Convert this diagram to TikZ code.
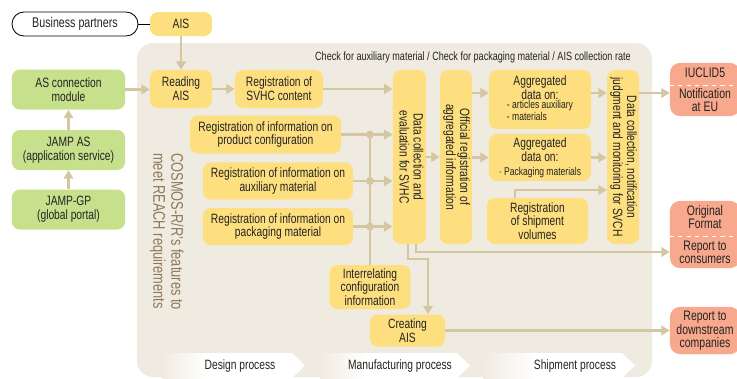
\documentclass[tikz,border=0pt]{standalone}
\usepackage{fontspec}
\setmainfont{Liberation Sans}[FakeStretch=0.76]
\usetikzlibrary{arrows.meta}

\definecolor{panelbg}{RGB}{240,235,225}
\definecolor{boxyellow}{RGB}{254,223,127}
\definecolor{boxgreen}{RGB}{198,224,140}
\definecolor{boxsalmon}{RGB}{248,168,140}
\definecolor{flowtan}{RGB}{212,198,160}
\definecolor{textdark}{RGB}{35,35,35}
\definecolor{cosmosbrown}{RGB}{140,122,92}

\newcommand{\smalltext}{\fontsize{8}{7.8}\selectfont}

\tikzset{
  boxfont/.style={font=\fontsize{9.6}{9.8}\selectfont},
  ybox/.style={fill=boxyellow, rounded corners=0.2cm, align=center, text=textdark, boxfont, inner sep=1pt},
  gbox/.style={fill=boxgreen, rounded corners=0.2cm, align=center, text=textdark, boxfont, inner sep=1pt},
  rbox/.style={fill=boxsalmon, rounded corners=0.25cm, align=center, text=textdark, font=\fontsize{9.8}{9}\selectfont, inner sep=1pt},
  flow/.style={draw=flowtan, line width=2.1pt, -{Triangle[length=0.21cm,width=0.24cm]}},
  plainflow/.style={draw=flowtan, line width=2.1pt},
  joint/.style={circle, fill=flowtan, inner sep=0pt, minimum size=0.2cm},
  divider/.style={draw=white, dashed, line width=0.8pt},
  proclabel/.style={text=textdark, font=\fontsize{9.6}{10}\selectfont},
}

\begin{document}
\begin{tikzpicture}[x=0.025cm, y=-0.025cm]
\useasboundingbox (0,0) rectangle (737,378);

% panel
\fill[panelbg, rounded corners=0.4cm] (137,43) rectangle (652,377);

% process arrows along the bottom
\fill[white] (162,353) -- (292,353) -- (305,365.5) -- (292,378) -- (162,378) -- cycle;
\shade[left color=panelbg, right color=white] (162,353) rectangle (205,378);
\fill[white] (320,353) -- (457,353) -- (470,365.5) -- (457,378) -- (320,378) -- cycle;
\shade[left color=panelbg, right color=white] (320,353) rectangle (365,378);
\fill[white] (483,353) -- (622,353) -- (635,365.5) -- (622,378) -- (483,378) -- cycle;
\shade[left color=panelbg, right color=white] (483,353) rectangle (535,378);
\node[proclabel] (design) at (240,366) {Design process};
\node[proclabel] (manuf) at (400,366) {Manufacturing process};
\node[proclabel] (shipment) at (575,366) {Shipment process};

\node[text=textdark, font=\fontsize{8.5}{9}\selectfont, anchor=east, inner sep=0pt] (checknote) at (631,57)
  {Check for auxiliary material / Check for packaging material / AIS collection rate};
\node[rotate=-90, anchor=north west, align=left, inner sep=0pt, text=cosmosbrown, font=\fontsize{12}{12.8}\selectfont] (cosmos) at (184,153)
  {COSMOS-R/R's features to\\meet REACH requirements};

% left column
\node[draw=black, line width=0.6pt, fill=white, rounded corners=0.3cm, minimum width=3.15cm, minimum height=0.6cm,
  text=textdark, font=\fontsize{10}{11}\selectfont] (partners) at (75,24) {Business partners};
\node[ybox, minimum width=1.55cm, minimum height=0.6cm] (aistop) at (181,24) {AIS};
\node[gbox, minimum width=2.83cm, minimum height=1cm] (ascon) at (68.5,89.5) {AS connection\\module};
\node[gbox, minimum width=2.83cm, minimum height=1cm] (jampas) at (68.5,150) {JAMP AS\\(application service)};
\node[gbox, minimum width=2.83cm, minimum height=1cm] (jampgp) at (68.5,209.5) {JAMP-GP\\(global portal)};

% design
\node[ybox, minimum width=1.55cm, minimum height=0.95cm] (reading) at (181,89) {Reading\\AIS};
\node[ybox, minimum width=2.2cm, minimum height=0.95cm] (svhc) at (279,89) {Registration of\\SVHC content};
\node[ybox, minimum width=3.78cm, minimum height=0.95cm] (regprod) at (265.5,134.5) {Registration of information on\\product configuration};
\node[ybox, minimum width=3.75cm, minimum height=0.93cm] (regaux) at (278,181) {Registration of information on\\auxiliary material};
\node[ybox, minimum width=3.75cm, minimum height=0.93cm] (regpack) at (278,226.5) {Registration of information on\\packaging material};

% manufacturing
\node[ybox, minimum width=0.83cm, minimum height=4.35cm] (dc1) at (409.5,157)
  {\rotatebox{-90}{\begin{tabular}{@{}c@{}}Data collection and\\evaluation for SVHC\end{tabular}}};
\node[ybox, minimum width=0.8cm, minimum height=4.35cm] (off) at (456,157)
  {\rotatebox{-90}{\begin{tabular}{@{}c@{}}Official registration of\\aggregated information\end{tabular}}};
\node[ybox, minimum width=2.03cm, minimum height=1.1cm] (inter) at (370,287) {Interrelating\\configuration\\information};
\node[ybox, minimum width=1.88cm, minimum height=0.8cm] (creating) at (407.5,330.5) {Creating\\AIS};

% shipment
\node[ybox, minimum width=2.55cm, minimum height=1.48cm] (agg1) at (540,99.5)
  {Aggregated\\data on:\\{\smalltext\begin{tabular}{@{}l@{}}- articles auxiliary\\- materials\end{tabular}}};
\node[ybox, minimum width=2.55cm, minimum height=1.18cm] (agg2) at (540,157.5)
  {Aggregated\\data on:\\{\smalltext · Packaging materials}};
\node[ybox, minimum width=2.53cm, minimum height=1.15cm] (ship) at (537.5,221) {Registration\\of shipment\\volumes};
\node[ybox, minimum width=0.8cm, minimum height=4.35cm] (dc2) at (623,157)
  {\rotatebox{-90}{\begin{tabular}{@{}c@{}}Data collection, notification\\judgment and monitoring for SVCH\end{tabular}}};

% outputs
\node[rbox, minimum width=1.75cm, minimum height=1.33cm] (iuclid) at (705,89.5) {IUCLID5\\[6pt]Notification\\at EU};
\node[rbox, minimum width=1.75cm, minimum height=1.68cm] (orig) at (705,234.5) {Original\\Format\\[7pt]Report to\\consumers};
\node[rbox, minimum width=1.75cm, minimum height=1.18cm] (down) at (705,330.5) {Report to\\downstream\\companies};
\draw[divider] ([yshift=0.11cm]iuclid.west) -- ([yshift=0.11cm]iuclid.east);
\draw[divider] ([yshift=-0.06cm]orig.west) -- ([yshift=-0.06cm]orig.east);

% helper points
\coordinate (bus) at (370,0);
\coordinate (row1) at (0,93);
\coordinate (shipup) at (515,190);
\coordinate (conbend) at (416,252);
\coordinate (crbend) at (408,259);
\coordinate (crdrop) at (428,259);

% connectors
\draw[black, line width=0.6pt] (partners) -- (aistop);
\draw[flow] (aistop) -- (reading);
\draw[flow] (jampgp) -- (jampas);
\draw[flow] (jampas) -- (ascon);
\draw[flow] (ascon.east) -- (ascon.east -| reading.west);
\draw[flow] (reading) -- (svhc);
\draw[flow] (svhc.east) -- (svhc.east -| dc1.west);
\draw[flow] (regprod.east) -- (regprod.east -| dc1.west);
\draw[flow] (regaux.east) -- (regaux.east -| dc1.west);
\draw[flow] (regpack.east) -- (regpack.east -| dc1.west);
\node[joint] (j1) at (regprod.east -| bus) {};
\node[joint] (j2) at (regaux.east -| bus) {};
\node[joint] (j3) at (regpack.east -| bus) {};
\draw[plainflow] (j1.center) -- (j1.center |- inter.north);
\draw[flow] (dc1) -- (off);
\draw[flow] (off.east |- row1) -- (agg1.west |- row1);
\draw[flow] (off.east |- agg2) -- (agg2.west);
\draw[flow] (agg1.east |- row1) -- (dc2.west |- row1);
\draw[flow] (agg2.east) -- (agg2.east -| dc2.west);
\draw[flow] (ship.north -| shipup) -- (shipup) -- (shipup -| dc2.west);
\draw[flow] (dc2.east |- row1) -- (iuclid.west |- row1);
\draw[flow] (dc1.south -| conbend) -- (conbend) -- (conbend -| orig.west);
\draw[flow] (dc1.south -| crbend) -- (crbend) -- (crdrop) -- (crdrop |- creating.north);
\draw[flow] (creating) -- (down);
\end{tikzpicture}
\end{document}
